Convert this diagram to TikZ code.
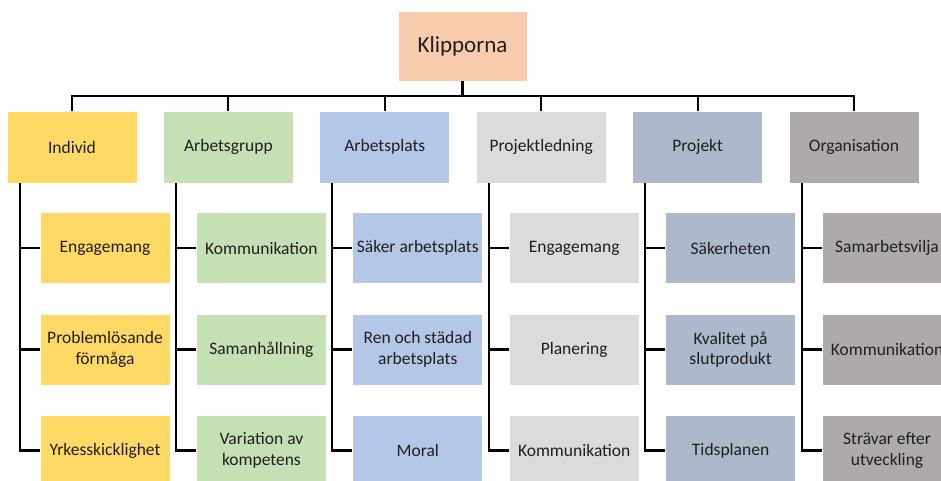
\documentclass[tikz,border=0pt]{standalone}
\usepackage{fontspec}
\setmainfont{Carlito}
\usetikzlibrary{positioning}

\begin{document}
\begin{tikzpicture}[
    x={(1pt,0pt)}, y={(0pt,-1pt)},
    every node/.style={font=\fontsize{17.5}{20.5}\selectfont, text=black!88, align=center},
    box/.style={rectangle, draw=white, line width=0.8pt, minimum width=130pt, minimum height=71pt, inner sep=1pt},
    link/.style={draw=black, line width=2.1pt},
  ]
    \definecolor{colRoot}{HTML}{F8CBAD}
    \definecolor{colInd}{HTML}{FFD966}
    \definecolor{colGrp}{HTML}{C5E0B4}
    \definecolor{colPlats}{HTML}{B4C7E7}
    \definecolor{colLed}{HTML}{DBDBDB}
    \definecolor{colProj}{HTML}{ADB9CA}
    \definecolor{colOrg}{HTML}{AEAAAA}

    \useasboundingbox (0,0) rectangle (941,481);
    \clip (0,0) rectangle (941,481);

    % -------- top node --------
    \node[box, fill=colRoot, minimum width=129pt, minimum height=70pt,
          font=\fontsize{23}{27}\selectfont] (root) at (462.5,46) {Klipporna};
    \coordinate (bus) at (0,96);

    % -------- categories and their items --------
    \foreach \name/\txt/\col/\a/\b/\c [count=\i from 0] in {
        ind/Individ/colInd/Engagemang/Problemlösande\\förmåga/Yrkesskicklighet,
        grp/Arbetsgrupp/colGrp/Kommunikation/Samanhållning/Variation av\\kompetens,
        plats/Arbetsplats/colPlats/Säker arbetsplats/Ren och städad\\arbetsplats/Moral,
        led/Projektledning/colLed/Engagemang/Planering/Kommunikation,
        proj/Projekt/colProj/Säkerheten/Kvalitet på\\slutprodukt/Tidsplanen,
        org/Organisation/colOrg/Samarbetsvilja/Kommunikation/Strävar efter\\utveckling} {
      \node[box, fill=\col, minimum height=72pt] (\name) at (72+156.4*\i,147) {\txt};
      \node[box, fill=\col] (\name-1) at (105+156.4*\i,248) {\a};
      \node[box, fill=\col] (\name-2) at (105+156.4*\i,349.5) {\b};
      \node[box, fill=\col] (\name-3) at (105+156.4*\i,450.5) {\c};
      % connectors
      \draw[link] (root.south) |- (bus -| \name.north) -- (\name.north);
      \coordinate (\name-s) at ([xshift=13pt]\name.south west);
      \draw[link] (\name-s) |- (\name-1.west);
      \draw[link] (\name-s) |- (\name-2.west);
      \draw[link] (\name-s) |- (\name-3.west);
    }
\end{tikzpicture}
\end{document}
